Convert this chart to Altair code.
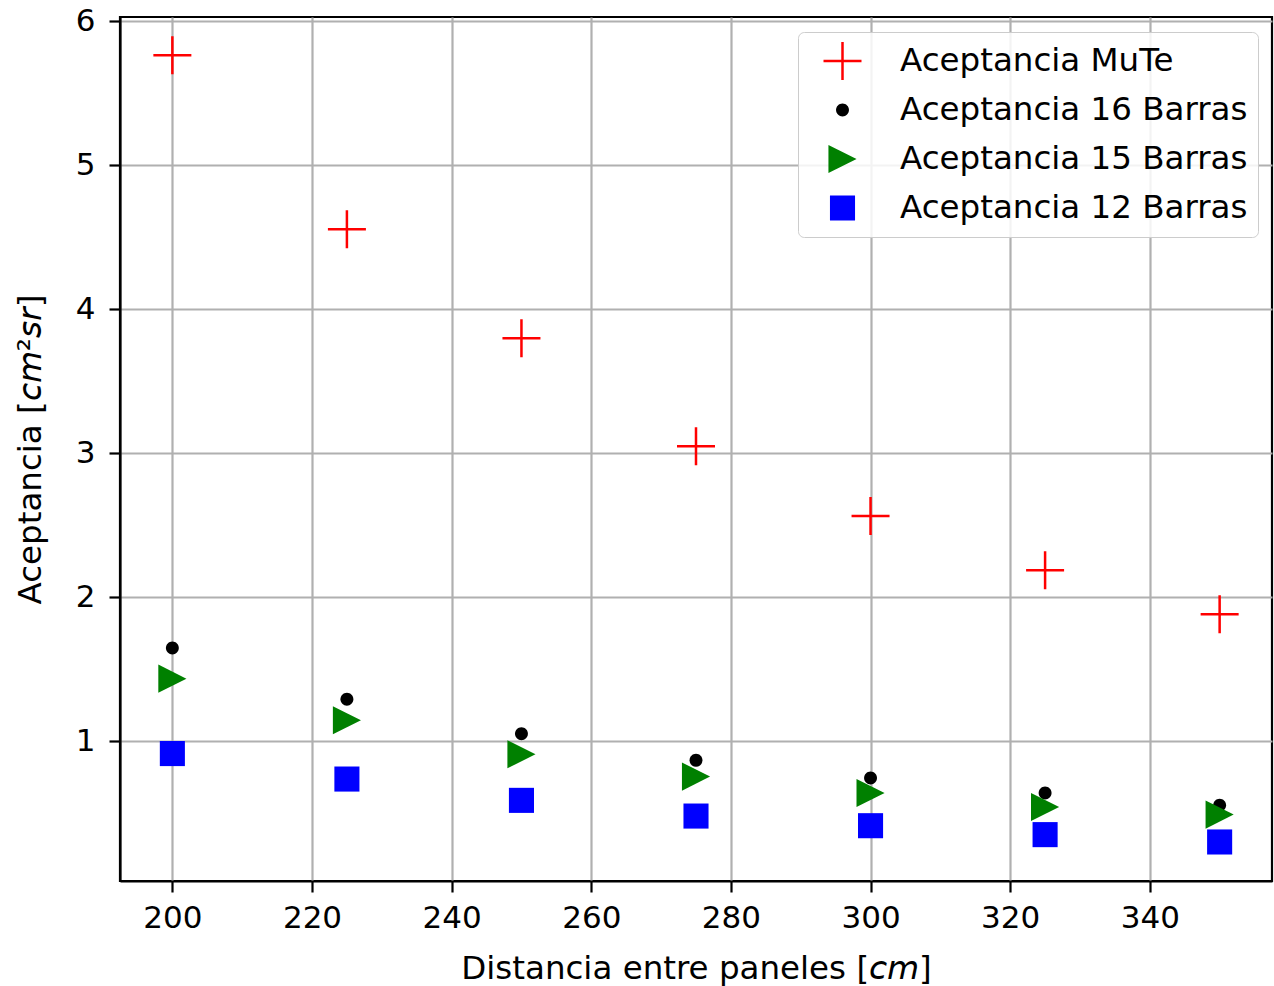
import altair as alt
import pandas as pd

distancias = [200, 225, 250, 275, 300, 325, 350]
mute = [5.764, 4.556, 3.799, 3.049, 2.565, 2.188, 1.882]
barras16 = [1.648, 1.292, 1.053, 0.868, 0.745, 0.641, 0.556]
barras15 = [1.435, 1.146, 0.910, 0.755, 0.641, 0.544, 0.491]
barras12 = [0.915, 0.738, 0.590, 0.481, 0.414, 0.352, 0.301]

series = ["Aceptancia MuTe", "Aceptancia 16 Barras", "Aceptancia 15 Barras", "Aceptancia 12 Barras"]
valores = [mute, barras16, barras15, barras12]

rows = []
for i, (s, vals) in enumerate(zip(series, valores)):
    for d, v in zip(distancias, vals):
        rows.append({"serie": s, "d": d, "a": v, "idx": i})
df = pd.DataFrame(rows)

shapes = [
    "M-1,0L1,0M0,-1L0,1",
    "M-0.34,0A0.34,0.34,0,1,0,0.34,0A0.34,0.34,0,1,0,-0.34,0Z",
    "M-0.74,-0.74L0.74,0L-0.74,0.74Z",
    "M-0.66,-0.66L0.66,-0.66L0.66,0.66L-0.66,0.66Z",
]
fills = ["transparent", "black", "green", "blue"]
strokes = ["red", "transparent", "transparent", "transparent"]

FONT = "DejaVu Sans"
leg = alt.Legend(
    title=None, orient="none", legendX=678, legendY=15,
    labelFont=FONT, labelFontSize=32.5, labelColor="black", labelLimit=800,
    symbolSize=1444, symbolStrokeWidth=2.5, padding=10, rowPadding=11,
    clipHeight=38, symbolOffset=14, labelOffset=37,
    strokeColor="#cccccc", fillColor="rgba(255,255,255,0.85)", cornerRadius=6,
)

chart = alt.Chart(df).mark_point(size=1444, opacity=1, strokeWidth=2.5).encode(
    x=alt.X("d:Q", scale=alt.Scale(domain=[192.5, 357.5], nice=False, zero=False),
            axis=alt.Axis(values=[200, 220, 240, 260, 280, 300, 320, 340],
                          title="Distancia entre paneles [𝘤𝘮]")),
    y=alt.Y("a:Q", scale=alt.Scale(domain=[0.03, 6.03], nice=False, zero=False),
            axis=alt.Axis(values=[1, 2, 3, 4, 5, 6], title="Aceptancia [𝘤𝘮²𝘴𝘳]")),
    shape=alt.Shape("serie:N", scale=alt.Scale(domain=series, range=shapes), legend=leg),
    fill=alt.Fill("serie:N", scale=alt.Scale(domain=series, range=fills), legend=leg),
    stroke=alt.Stroke("serie:N", scale=alt.Scale(domain=series, range=strokes), legend=leg),
    order=alt.Order("idx:Q"),
).properties(
    width=1152, height=864,
    autosize=alt.AutoSizeParams(type="none"),
    padding={"left": 120, "top": 17, "right": 2, "bottom": 105},
    background="white",
).configure_axis(
    zindex=1,
    grid=True, gridColor="#b0b0b0", gridWidth=2.2,
    domainColor="black", domainWidth=2.2,
    tickColor="black", tickWidth=2.2, tickSize=11,
    labelFont=FONT, labelFontSize=31, labelColor="black",
    titleFont=FONT, titleFontSize=32.5, titleColor="black", titleFontWeight="normal",
).configure_axisX(labelPadding=11, titlePadding=19).configure_axisY(
    labelPadding=14, titlePadding=28
).configure_view(
    stroke="black", strokeWidth=2.2
)

chart.save("out.html", embed_options={"renderer": "svg", "actions": False})
